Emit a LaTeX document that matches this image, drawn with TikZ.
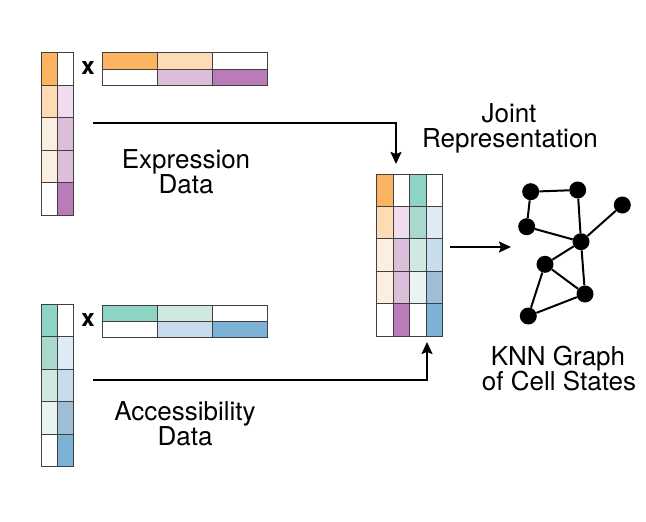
\documentclass[tikz,border=0pt]{standalone}
\usepackage{fontspec}
\setmainfont{TeX Gyre Heros}
\usetikzlibrary{arrows.meta}
\definecolor{orA}{HTML}{FBB360}
\definecolor{orB}{HTML}{FDDBB4}
\definecolor{orC}{HTML}{FCEEE0}
\definecolor{puA}{HTML}{EFDDEF}
\definecolor{puB}{HTML}{DCBEDB}
\definecolor{puC}{HTML}{B97CB9}
\definecolor{teA}{HTML}{8ED4C4}
\definecolor{teB}{HTML}{A8D9CC}
\definecolor{teC}{HTML}{D1E7E2}
\definecolor{teD}{HTML}{E9F3F1}
\definecolor{blA}{HTML}{DEEBF6}
\definecolor{blB}{HTML}{C7DDEC}
\definecolor{blC}{HTML}{9DBED6}
\definecolor{blD}{HTML}{7EB1D6}
\begin{document}
\begin{tikzpicture}[x=1pt,y=-1pt,
  cell/.style={draw=black!75,line width=0.8pt},
  lbl/.style={inner sep=0pt,anchor=base,font=\fontsize{26}{25}\selectfont},
  times/.style={inner sep=0pt,font=\fontsize{24}{24}\selectfont\bfseries},
  conn/.style={line width=2pt,-{Stealth[length=12pt,width=11pt,inset=2pt]}},
  gn/.style={circle,fill=black,minimum size=17pt,inner sep=0pt},
  gedge/.style={line width=2pt}]
\useasboundingbox (0,0) rectangle (646,522);
\fill[white] (0,0) rectangle (646,522);

% ---------- Expression factor matrices ----------
\foreach \c [count=\i from 0] in {orA,orB,orC,orC,white}
  \filldraw[cell,fill=\c] (41,52.7+32.5*\i) rectangle ++(16.3,32.5);
\foreach \c [count=\i from 0] in {white,puA,puB,puB,puC}
  \filldraw[cell,fill=\c] (57.3,52.7+32.5*\i) rectangle ++(16.3,32.5);
\foreach \c [count=\i from 0] in {orA,orB,white}
  \filldraw[cell,fill=\c] (102.7+55*\i,52.7) rectangle ++(55,16.2);
\foreach \c [count=\i from 0] in {white,puB,puC}
  \filldraw[cell,fill=\c] (102.7+55*\i,68.9) rectangle ++(55,16.2);
\node[times] (xe) at (88,68) {x};

% ---------- Accessibility factor matrices ----------
\foreach \c [count=\i from 0] in {teA,teB,teC,teD,white}
  \filldraw[cell,fill=\c] (41,304+32.5*\i) rectangle ++(16.3,32.5);
\foreach \c [count=\i from 0] in {white,blA,blB,blC,blD}
  \filldraw[cell,fill=\c] (57.3,304+32.5*\i) rectangle ++(16.3,32.5);
\foreach \c [count=\i from 0] in {teA,teC,white}
  \filldraw[cell,fill=\c] (102.7+55*\i,305) rectangle ++(55,16.3);
\foreach \c [count=\i from 0] in {white,blB,blD}
  \filldraw[cell,fill=\c] (102.7+55*\i,321.3) rectangle ++(55,16.3);
\node[times] (xa) at (88,320) {x};

% ---------- Joint matrix ----------
\foreach \c [count=\i from 0] in {orA,orB,orC,orC,white}
  \filldraw[cell,fill=\c] (376.7,174+32.4*\i) rectangle ++(16.5,32.4);
\foreach \c [count=\i from 0] in {white,puA,puB,puB,puC}
  \filldraw[cell,fill=\c] (393.2,174+32.4*\i) rectangle ++(16.5,32.4);
\foreach \c [count=\i from 0] in {teA,teB,teC,teD,white}
  \filldraw[cell,fill=\c] (409.7,174+32.4*\i) rectangle ++(16.5,32.4);
\foreach \c [count=\i from 0] in {white,blA,blB,blC,blD}
  \filldraw[cell,fill=\c] (426.2,174+32.4*\i) rectangle ++(16.5,32.4);

% ---------- Labels ----------
\node[lbl] (expr1) at (186,168) {Expression};
\node[lbl] (expr2) at (186,193) {Data};
\node[lbl] (acc1) at (185,420) {Accessibility};
\node[lbl] (acc2) at (185,445) {Data};
\node[lbl] (joint1) at (509,122) {Joint};
\node[lbl] (joint2) at (510,147) {Representation};
\node[lbl] (knn1) at (558,365) {KNN Graph};
\node[lbl] (knn2) at (559,390) {of Cell States};

% ---------- Connectors ----------
\coordinate (es) at (93,123);
\coordinate (ee) at (396,164);
\draw[conn] (es) -| (ee);
\coordinate (as) at (93,380);
\coordinate (ae) at (427,342);
\draw[conn] (as) -| (ae);
\coordinate (rs) at (450,247);
\coordinate (re) at (511,247);
\draw[conn] (rs) -- (re);

% ---------- KNN graph ----------
\node[gn] (g1) at (530.7,191.7) {};
\node[gn] (g2) at (577.7,190) {};
\node[gn] (g3) at (622.3,205) {};
\node[gn] (g4) at (526.7,226.7) {};
\node[gn] (g5) at (581,241.7) {};
\node[gn] (g6) at (545,264.3) {};
\node[gn] (g7) at (585,294) {};
\node[gn] (g8) at (528.3,316) {};
\draw[gedge] (g1) -- (g2);
\draw[gedge] (g1) -- (g4);
\draw[gedge] (g2) -- (g5);
\draw[gedge] (g4) -- (g5);
\draw[gedge] (g3) -- (g5);
\draw[gedge] (g5) -- (g6);
\draw[gedge] (g5) -- (g7);
\draw[gedge] (g6) -- (g7);
\draw[gedge] (g6) -- (g8);
\draw[gedge] (g8) -- (g7);
\end{tikzpicture}
\end{document}
